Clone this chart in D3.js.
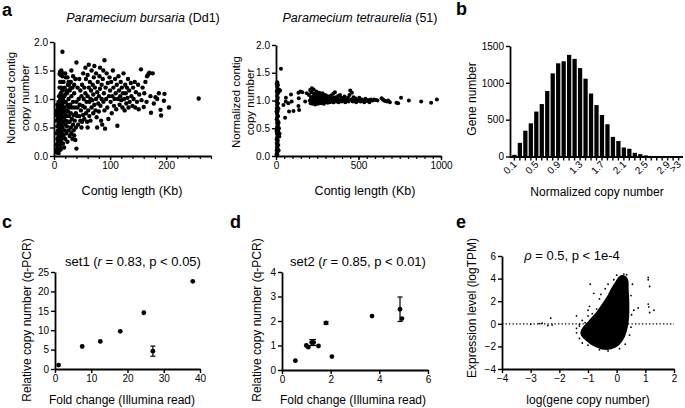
<!DOCTYPE html>
<html><head><meta charset="utf-8">
<script src="https://cdn.jsdelivr.net/npm/d3@7"></script>
<style>body{margin:0;background:#fff}svg{display:block}text{font-family:"Liberation Sans",Arial,Helvetica,sans-serif;fill:#000}</style>
</head><body><svg id="c" width="685" height="408"></svg>
<script>
// ---------- DATA ----------
const bursaria = [
[4,0.1],[5,0.06],[6,0.14],[7,0.09],[8,0.05],[5,0.2],[7,0.24],[9,0.17],[6,0.3],[8,0.34],[10,0.1],[10,0.27],[11,0.18],[5,0.4],[7,0.45],[9,0.4],[11,0.36],[12,0.12],[12,0.25],[13,0.3],[6,0.52],[8,0.56],[10,0.5],[12,0.45],[14,0.4],[5,0.62],[7,0.66],[9,0.62],[11,0.58],[13,0.55],[15,0.5],[4,0.72],[6,0.76],[8,0.72],[10,0.7],[12,0.66],[14,0.62],[5,0.8],[9,0.8],[11,0.78],[13,0.74],[15,0.7],[7,0.86],[10,0.9],[12,0.85],[14,0.82],[8,0.95],[11,1.0],[13,0.95],[15,0.9],[9,1.05],[12,1.1],[14,1.05],[10,1.2],[13,1.2],[15,1.15],[11,1.3],[14,1.3],[10,1.44],[11,1.48],[12,1.42],[13,1.5],[14,1.46],[15,1.4],[15,1.83],[12,1.0],[6,0.9],
[16,0.22],[17,0.35],[18,0.15],[19,0.45],[16,0.6],[17,0.78],[18,0.68],[19,0.85],[20,0.3],[20,0.55],[20,0.75],[21,0.62],[21,0.95],[22,0.4],[22,0.8],[23,0.52],[23,0.7],[23,1.1],[24,0.25],[24,0.9],[25,0.6],[25,0.78],[25,1.25],[26,0.45],[26,1.0],[27,0.7],[27,0.85],[28,0.35],[28,0.6],[28,1.15],[29,0.9],[30,0.5],[30,0.75],[30,1.3],[31,0.4],[31,1.05],[32,0.65],[32,0.85],[33,0.3],[33,1.2],[34,0.55],[34,0.95],[35,0.45],[35,0.72],[36,0.36],[36,1.1],[37,0.62],[37,0.85],[38,0.28],[38,1.35],[39,0.5],[39,0.75],[40,0.13],[40,0.95],[40,1.64],[18,1.05],[19,1.2],[17,1.3],[16,1.0],[21,1.38],[22,1.15],[20,1.45],[24,1.38],[26,1.3],[29,1.18],[27,1.25],[31,1.5],[34,1.4],[36,1.25],[18,0.95],[20,1.08],
[41,0.7],[42,0.85],[42,1.2],[43,0.55],[44,1.0],[45,0.7],[45,1.35],[46,0.9],[47,0.62],[47,1.15],[48,0.8],[49,1.05],[50,0.6],[50,1.25],[51,0.88],[52,0.72],[52,1.45],[53,1.0],[54,0.65],[54,1.2],[55,0.85],[56,1.1],[57,0.75],[57,1.35],[58,0.95],[59,0.6],[60,1.05],[60,1.42],[61,0.8],[62,1.2],[63,0.7],[63,0.95],[64,1.3],[65,1.0],[65,0.62],[66,1.15],[67,0.85],[67,1.5],[68,0.98],[69,1.25],[70,0.75],[70,1.08],[71,1.38],[72,0.9],[72,1.58],[73,1.2],[74,0.8],[75,1.0],[75,1.45],[76,0.68],[77,1.12],[77,0.5],[78,1.3],[79,0.92],[80,1.05],[80,0.78],[81,1.4],[82,1.18],[83,0.88],[84,0.62],[85,1.25],[85,1.0],[86,0.55],[87,1.35],[88,0.95],[88,1.5],[89,1.1],[90,1.68],[90,0.8],[91,0.48],[92,1.2],[93,1.0],[94,1.45],[95,0.85],[96,1.28],[97,0.65],[98,1.05],[99,1.38],[56,1.55],[62,1.6],[82,1.55],[49,0.5],[60,0.5],
[100,1.15],[101,0.95],[102,1.3],[103,0.75],[104,1.05],[105,1.5],[106,1.2],[107,0.88],[108,1.0],[109,1.35],[110,1.1],[111,0.82],[112,1.25],[113,0.53],[114,1.0],[115,1.4],[116,1.15],[117,0.9],[118,1.05],[119,1.3],[120,0.98],[121,1.2],[122,0.85],[123,1.1],[124,1.45],[125,1.0],[126,0.8],[127,1.25],[128,1.1],[129,0.92],[130,1.2],[131,1.02],[132,1.35],[133,0.85],[134,1.15],[135,0.95],[137,1.28],[138,1.05],[140,0.88],[141,1.2],[142,1.0],[144,1.3],[145,0.85],[146,1.12],[148,0.95],[150,1.25],[151,0.82],[152,1.08],[155,1.52],[156,0.98],[158,1.2],[160,0.86],[161,1.1],[163,1.3],[165,0.95],[166,1.4],[168,1.43],[170,1.46],[172,1.05],[173,0.76],[176,1.45],[178,0.92],[181,1.03],[184,1.0],[187,1.1],[190,0.81],[191,0.71],[196,0.97],[197,1.09],[205,0.85],[258,1.01]
];
const tetraurelia = [
[3,0.02],[5,0.05],[8,0.03],[4,0.1],[10,0.08],[6,0.15],[9,0.18],[12,0.12],[5,0.22],[8,0.25],[11,0.28],[4,0.3],[7,0.33],[13,0.35],[6,0.4],[10,0.42],[14,0.45],[5,0.5],[9,0.53],[12,0.56],[7,0.6],[11,0.63],[4,0.66],[8,0.7],[13,0.72],[6,0.76],[10,0.8],[5,0.85],[9,0.88],[7,0.92],[12,0.95],[4,0.98],[8,1.02],[11,1.05],[6,1.08],[10,1.12],[5,1.16],[9,1.2],[7,1.25],[4,1.3],[8,1.33],[12,1.28],[15,1.15],[18,1.2],[20,0.35],[22,0.4],[16,0.1],[14,0.2],[16,0.6],[18,0.5],[3,0.45],[3,0.8],[15,0.85],[30,1.57],[25,1.18],
[45,0.92],[59,0.98],[75,0.95],[91,1.11],[55,0.69],[79,0.8],[106,0.81],[136,0.9],[140,0.83],[138,1.04],[136,1.14],[148,1.16],[177,0.98],[187,1.13],[160,1.15],[60,1.05],[95,0.98],
[200,1.1],[205,1.0],[207,1.19],[210,0.95],[212,1.05],[215,1.15],[217,1.22],[220,1.02],[222,0.94],[225,1.08],[228,1.2],[230,0.98],[232,1.12],[235,1.04],[238,0.93],[240,1.1],[242,1.0],[245,1.16],[248,0.97],[250,1.06],[253,1.02],[255,0.94],[258,1.1],[260,1.0],[263,1.05],[265,0.96],[268,1.08],[270,1.02],[273,0.95],[275,1.1],[278,1.0],[280,1.04],[283,0.97],[285,1.08],[288,1.02],[290,0.94],[293,1.06],[295,1.0],[298,1.1],[300,0.97],[303,1.04],[306,1.0],[310,1.08],[313,0.96],[316,1.03],[320,1.0],[323,1.06],[326,0.97],[330,1.02],[333,1.09],[336,0.99],[340,1.04],[343,1.0],[347,1.12],[350,0.97],[353,1.05],[357,1.15],[360,1.0],[364,1.06],[368,0.98],[372,1.03],[376,1.08],[380,0.97],[384,1.02],[388,1.1],[392,1.0],[396,1.05],[400,0.98],[405,1.03],[410,1.0],[415,1.07],[420,0.97],[425,1.02],[430,1.0],[436,1.05],[440,0.98],[445,1.1],[450,1.18],[455,1.02],[460,1.14],[465,0.98],[470,1.06],[475,1.0],[480,1.04],[486,0.97],[492,1.02],[498,1.0],[505,1.05],[512,0.98],[520,1.02],[528,1.0],[535,0.97],[542,1.03],[550,0.99],[558,1.01],[566,0.97],[575,1.02],[585,1.0],[595,1.02],[605,1.01],[615,1.0],
[215,1.0],[225,0.97],[235,1.0],[245,1.03],[255,1.01],[265,1.03],[275,0.98],[285,1.0],[295,1.03],[305,0.98],[315,1.01],[325,1.04],[335,1.0],[345,0.97],[355,1.01],[365,1.02],[375,1.0],[385,0.99],[395,1.01],[232,1.05],[242,1.07],[252,1.13],[262,1.14],[272,1.12],[282,1.13],
[640,1.04],[648,1.02],[655,1.0],[663,0.99],[672,0.98],[680,1.0],[690,0.97],[730,0.96],[740,0.95],[758,1.05],[805,1.0],[880,0.98],[940,0.96],[975,1.02]
];
const histCats = ["0.1","0.2","0.3","0.4","0.5","0.6","0.7","0.8","0.9","1.0","1.1","1.2","1.3","1.4","1.5","1.6","1.7","1.8","1.9","2.0","2.1","2.2","2.3","2.4","2.5","2.6","2.7","2.8","2.9","3.0",">3"];
const histCounts = [23,185,350,450,610,712,890,1128,1265,1293,1380,1325,1200,1056,855,698,563,438,266,210,122,105,50,32,15,8,5,4,3,3,4];
const histLabels = ["0.1","0.5","0.9","1.3","1.7","2.1","2.5","2.9",">3"];
const set1X = [1, 7.5, 12.5, 18, 24.5, 27, 38];
const set1Y = [1.0, 5.8, 7.1, 9.7, 14.5, 4.6, 22.6];
const set1Err = [0, 0, 0, 0, 0, 1.3, 0];
const set2X = [0.55, 1.0, 1.08, 1.22, 1.3, 1.5, 1.81, 2.05, 3.7, 4.85, 4.93];
const set2Y = [0.38, 1.0, 0.93, 1.12, 1.12, 0.98, 1.92, 0.55, 2.2, 2.48, 2.1];
const set2Err = [0, 0, 0, 0.12, 0.12, 0, 0.05, 0, 0, 0.5, 0];
const exprCloud = [[-1.25,-0.6],[-1.12,-0.1],[-1.0,0.2],[-0.88,0.55],[-0.72,1.0],[-0.58,1.5],[-0.45,2.0],[-0.3,2.6],[-0.2,3.1],[-0.05,3.7],[0.05,4.1],[0.15,4.3],[0.3,4.25],[0.4,3.9],[0.42,3.0],[0.44,2.0],[0.44,1.0],[0.42,0.2],[0.36,-0.6],[0.28,-1.2],[0.15,-1.7],[0.0,-2.05],[-0.2,-2.25],[-0.45,-2.3],[-0.7,-2.1],[-0.92,-1.8],[-1.12,-1.4],[-1.25,-1.0]];
const exprPoints = [[-0.92,3.5],[-0.8,2.7],[-0.95,1.55],[-1.0,1.2],[-0.55,2.6],[-0.6,2.2],[-0.4,3.1],[-0.3,3.5],[-0.1,3.9],[0.0,4.3],[0.25,4.4],[0.35,4.35],[0.55,3.5],[0.5,2.5],[0.6,1.2],[0.52,0.8],[0.5,-0.3],[0.45,-1.0],[0.3,-1.8],[0.1,-2.2],[-0.3,-2.4],[-0.6,-2.3],[-1.0,-1.9],[-1.2,-1.7],[-1.3,-1.3],[-1.4,-0.8],[-1.4,-0.4],[-1.3,-0.2],[-1.2,0.3],[-1.1,0.1],[-1.0,0.7],[-0.85,0.9],[-0.7,1.3],
[-3.0,-0.05],[-2.7,0.02],[-2.6,0.05],[-2.4,-0.15],[-2.3,0.5],[-2.25,-0.1],[-1.4,0.7],[-1.3,-0.05],
[1.1,4.1],[1.1,3.9],[1.15,3.3],[1.1,1.75],[1.12,1.5],[1.15,1.0],[1.3,1.2],[0.75,1.4]];

// ---------- DRAW ----------
const svg = d3.select("#c");
const FONT = '"Liberation Sans",Arial,Helvetica,sans-serif';

function style(g, fs){
  g.attr("font-family", FONT).attr("font-size", fs||10);
  g.select(".domain").attr("stroke","#000").attr("stroke-width",1.8);
  g.selectAll(".tick line").attr("stroke","#000").attr("stroke-width",1.4);
  g.selectAll(".tick text").attr("fill","#000");
  return g;
}
function xAxis(scale, y, ticks, fmt, minor){
  if (minor){
    svg.append("g").attr("transform",`translate(0,${y})`)
      .call(d3.axisBottom(scale).tickValues(minor).tickSize(3).tickSizeOuter(0).tickFormat(""))
      .call(g=>{g.select(".domain").remove(); g.selectAll("line").attr("stroke","#000").attr("stroke-width",1.2);});
  }
  return svg.append("g").attr("transform",`translate(0,${y})`)
    .call(d3.axisBottom(scale).tickValues(ticks).tickSize(4).tickPadding(2).tickSizeOuter(0).tickFormat(fmt||d3.format("")))
    .call(style);
}
function yAxis(scale, x, ticks, fmt){
  return svg.append("g").attr("transform",`translate(${x},0)`)
    .call(d3.axisLeft(scale).tickValues(ticks).tickSize(4).tickPadding(2).tickSizeOuter(0).tickFormat(fmt||d3.format("")))
    .call(style);
}
function text(x,y,s,opt){
  opt=opt||{};
  const t = svg.append("text").attr("x",x).attr("y",y).attr("font-size",opt.fs||12)
    .attr("text-anchor",opt.anchor||"middle").attr("font-family",FONT);
  if(opt.weight) t.attr("font-weight",opt.weight);
  if(opt.rot) t.attr("transform",`rotate(${opt.rot},${x},${y})`);
  if(Array.isArray(s)) s.forEach(p=>{const ts=t.append("tspan").text(p[0]); if(p[1]) ts.attr("font-style","italic");});
  else t.text(s);
  return t;
}
function dots(data, xs, ys, r){
  svg.append("g").selectAll("circle").data(data).join("circle")
    .attr("cx",d=>xs(d[0])).attr("cy",d=>ys(d[1])).attr("r",r).attr("fill","#000");
}

// Panel labels
text(2,16,"a",{fs:18,weight:"bold",anchor:"start"});
text(456,15,"b",{fs:18,weight:"bold",anchor:"start"});
text(2,228,"c",{fs:18,weight:"bold",anchor:"start"});
text(230,228,"d",{fs:18,weight:"bold",anchor:"start"});
text(456,228,"e",{fs:18,weight:"bold",anchor:"start"});

// a left
{
  const x = d3.scaleLinear([0,280],[54,211]);
  const y = d3.scaleLinear([0,2],[156,42]);
  dots(bursaria, x, y, 2.2);
  xAxis(x, 156, [0,100,200], d3.format(""), d3.range(20,281,20));
  yAxis(y, 54, [0,0.5,1,1.5,2], d3.format(".1f"));
  text(143,22,[["Paramecium bursaria",true],[" (Dd1)"]],{fs:12.5});
  text(15,98,"Normalized contig",{rot:-90,fs:11.5});
  text(29,98,"copy number",{rot:-90,fs:11.5});
  text(132,195,"Contig length (Kb)",{fs:12.5});
}
// a right
{
  const x = d3.scaleLinear([0,1000],[276,441]);
  const y = d3.scaleLinear([0,2],[156,45]);
  dots(tetraurelia, x, y, 2.0);
  xAxis(x, 156, [0,500,1000], d3.format(""), d3.range(50,1001,50));
  yAxis(y, 276, [0,0.5,1,1.5,2], d3.format(".1f"));
  text(360,22,[["Paramecium tetraurelia",true],[" (51)"]],{fs:12.5});
  text(240,102,"Normalized contig",{rot:-90,fs:11.5});
  text(254,102,"copy number",{rot:-90,fs:11.5});
  text(365,195,"Contig length (Kb)",{fs:12.5});
}
// b
{
  const x = d3.scaleBand(histCats,[512,681]).paddingInner(0.22).paddingOuter(0.05);
  const y = d3.scaleLinear([0,1500],[156.5,46]);
  svg.append("g").selectAll("rect").data(histCats).join("rect")
    .attr("x",d=>x(d)).attr("width",x.bandwidth())
    .attr("y",(d,i)=>y(histCounts[i])).attr("height",(d,i)=>y(0)-y(histCounts[i])).attr("fill","#000");
  const gx = svg.append("g").attr("transform","translate(0,156.5)")
    .call(d3.axisBottom(x).tickSize(4).tickSizeOuter(0).tickFormat(""))
    .call(style);
  gx.select(".domain").attr("d","M510,0.5H683");
  svg.append("g").selectAll("text").data(histLabels).join("text")
    .attr("font-family",FONT).attr("font-size",10).attr("text-anchor","end")
    .attr("transform",d=>`translate(${x(d)+x.bandwidth()/2+3},${165}) rotate(-45)`)
    .text(d=>d);
  yAxis(y, 510, [0,500,1000,1500]);
  text(476,99,"Gene number",{rot:-90});
  text(597,196,"Normalized copy number");
}
// c
{
  const x = d3.scaleLinear([0,40],[55,200]);
  const y = d3.scaleLinear([0,25],[369,272]);
  const g = svg.append("g");
  set1X.forEach((v,i)=>{ if(set1Err[i]){
    const cx=x(v), y1=y(set1Y[i]-set1Err[i]), y2=y(set1Y[i]+set1Err[i]);
    g.append("line").attr("x1",cx).attr("x2",cx).attr("y1",y1).attr("y2",y2).attr("stroke","#000").attr("stroke-width",1.2);
    [y1,y2].forEach(yy=>g.append("line").attr("x1",cx-2.5).attr("x2",cx+2.5).attr("y1",yy).attr("y2",yy).attr("stroke","#000").attr("stroke-width",1.2));
  }});
  dots(set1X.map((v,i)=>[v,set1Y[i]]), x, y, 2.4);
  xAxis(x, 369, [0,10,20,30,40]);
  yAxis(y, 55, [0,5,10,15,20,25]);
  text(133,266,[["set1 ("],["r",true],[" = 0.83, p < 0.05)"]],{fs:13});
  text(31,320,"Relative copy number (q-PCR)",{rot:-90,fs:12});
  text(122,404,"Fold change (Illumina read)",{fs:12});
}
// d
{
  const x = d3.scaleLinear([0,6],[282,428]);
  const y = d3.scaleLinear([0,4],[370,272]);
  const g = svg.append("g");
  set2X.forEach((v,i)=>{ if(set2Err[i]){
    const cx=x(v), y1=y(set2Y[i]-set2Err[i]), y2=y(set2Y[i]+set2Err[i]);
    g.append("line").attr("x1",cx).attr("x2",cx).attr("y1",y1).attr("y2",y2).attr("stroke","#000").attr("stroke-width",1.2);
    [y1,y2].forEach(yy=>g.append("line").attr("x1",cx-2.5).attr("x2",cx+2.5).attr("y1",yy).attr("y2",yy).attr("stroke","#000").attr("stroke-width",1.2));
  }});
  dots(set2X.map((v,i)=>[v,set2Y[i]]), x, y, 2.4);
  xAxis(x, 370, [0,2,4,6]);
  yAxis(y, 282, [0,1,2,3,4]);
  text(358,266,[["set2 ("],["r",true],[" = 0.85, p < 0.01)"]],{fs:13});
  text(261,320,"Relative copy number (q-PCR)",{rot:-90,fs:12});
  text(353,404,"Fold change (Illumina read)",{fs:12});
}
// e
{
  const x = d3.scaleLinear([-4,2],[502,674]);
  const y = d3.scaleLinear([-4,6],[369,256]);
  svg.append("line").attr("x1",x(-4)).attr("x2",x(2)).attr("y1",y(0)).attr("y2",y(0))
    .attr("stroke","#000").attr("stroke-width",1.3).attr("stroke-dasharray","1.3,2.2");
  svg.append("path").attr("d", d3.line().x(d=>x(d[0])).y(d=>y(d[1])).curve(d3.curveCatmullRomClosed)(exprCloud)).attr("fill","#000");
  dots(exprPoints, x, y, 0.9);
  xAxis(x, 369, [-4,-3,-2,-1,0,1,2]);
  yAxis(y, 502, [-4,-2,0,2,4,6]);
  text(572,260,[["ρ",true],[" = 0.5, p < 1e-4"]],{fs:13});
  text(476,308,"Expression level (logTPM)",{rot:-90,fs:12});
  text(588,404,"log(gene copy number)",{fs:12});
}
</script></body></html>
